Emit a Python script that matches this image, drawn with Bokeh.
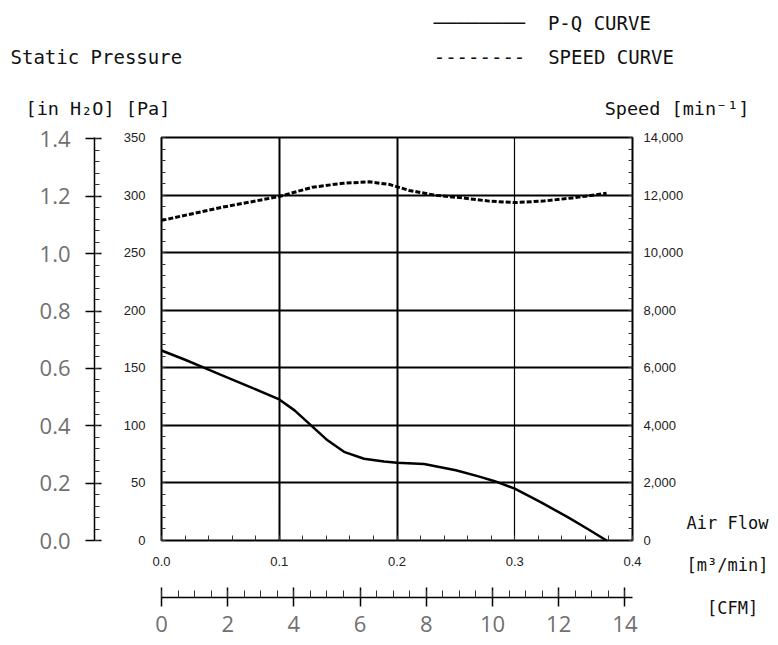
from bokeh.plotting import figure
from bokeh.models import (Range1d, LinearAxis, SingleIntervalTicker, FixedTicker,
                          PrintfTickFormatter, NumeralTickFormatter, Grid, Title)
from bokeh.embed import file_html
from bokeh.resources import INLINE

# ---------------- data ----------------
pq_flow = [0.0, 0.02, 0.034, 0.05, 0.076, 0.1, 0.113, 0.127, 0.141, 0.155, 0.172,
           0.189, 0.2, 0.223, 0.25, 0.27, 0.283, 0.3, 0.322, 0.345, 0.362, 0.378]
pq_pressure = [165, 157, 151, 144, 133, 122.5, 113, 100, 87, 77, 71,
               68.6, 67.5, 66.5, 61, 55.5, 51.5, 45, 33.3, 20.3, 10, 0]

speed_flow = [0.0, 0.052, 0.1, 0.128, 0.154, 0.1765, 0.1935, 0.2105, 0.233,
              0.256, 0.278, 0.301, 0.324, 0.349, 0.378]
speed_rpm = [11120, 11580, 11950, 12270, 12410, 12460, 12370, 12160, 11990,
             11900, 11790, 11740, 11790, 11900, 12060]

flow_range = [0.0, 0.4]            # m3/min
pressure_range = [0, 350]          # Pa
speed_range = [0, 14000]           # min-1
PA_PER_INH2O = 249.089
inh2o_range = [0.0, pressure_range[1] / PA_PER_INH2O]
cfm_range = [0.0, 14.23]           # CFM scale across the frame width

flow_step, pressure_step, speed_step = 0.1, 50, 2000
inh2o_step, cfm_step = 0.2, 2
grid_flow_thick = [0.1, 0.2]
grid_flow_thin = [0.3]

legend_labels = ["P-Q CURVE", "SPEED CURVE"]
title_pressure = "Static Pressure"
units_pressure = "[in H\u2082O] [Pa]"
title_speed = "Speed [min\u207b\u00b9]"
title_flow = ["Air Flow", "[m\u00b3/min]", "\u00a0\u00a0[CFM]"]

# ---------------- styles ----------------
MONO = "DejaVu Sans Mono"
SANS = "Liberation Sans"
ROUND = "Open Sans"
NB = "\u00a0"


def style_axis(ax, font, size, color, standoff, tin, tout, mtin, mtout,
               line_color="black", line_width=1.0, pad=None):
    ax.major_label_text_font = font
    ax.major_label_text_font_size = size
    ax.major_label_text_color = color
    ax.major_label_standoff = standoff
    ax.major_tick_in = tin
    ax.major_tick_out = tout
    ax.minor_tick_in = mtin
    ax.minor_tick_out = mtout
    ax.major_tick_line_color = "black" if (tin or tout) else None
    ax.major_tick_line_width = 1.5
    ax.minor_tick_line_color = "#333333"
    ax.minor_tick_line_width = 1
    ax.axis_line_color = line_color
    ax.axis_line_width = line_width
    if pad is not None:
        # invisible axis label that only reserves room before the next stacked axis
        ax.axis_label = "."
        ax.axis_label_text_font_size = "1px"
        ax.axis_label_text_alpha = 0
        ax.axis_label_standoff = pad


p = figure(width=778, height=645, min_border_left=161, min_border_right=146,
           min_border_top=137, min_border_bottom=105,
           x_range=Range1d(*flow_range), y_range=Range1d(*pressure_range),
           toolbar_location=None, output_backend="svg", title=None,
           x_axis_type=None, y_axis_type=None)
p.extra_y_ranges = {"speed": Range1d(*speed_range), "inh2o": Range1d(*inh2o_range)}
p.extra_x_ranges = {"cfm": Range1d(*cfm_range)}
p.outline_line_color = "black"
p.outline_line_width = 2
p.background_fill_color = "white"
p.border_fill_color = "white"

# left: Pa (inner) and inH2O (outer)
pa_axis = LinearAxis(ticker=SingleIntervalTicker(interval=pressure_step, num_minor_ticks=5))
style_axis(pa_axis, SANS, "13px", "#222222", 16, 0, 0, 4, 0, line_color=None, pad=22)
p.add_layout(pa_axis, "left")

inh2o_axis = LinearAxis(y_range_name="inh2o",
                        ticker=SingleIntervalTicker(interval=inh2o_step, num_minor_ticks=5),
                        formatter=PrintfTickFormatter(format="%.1f"))
style_axis(inh2o_axis, ROUND, "22px", "#707070", 15, 7, 9, 5, 0, line_width=1.5)
p.add_layout(inh2o_axis, "left")

# bottom: m3/min (inner) and CFM (outer)
flow_axis = LinearAxis(ticker=SingleIntervalTicker(interval=flow_step, num_minor_ticks=5),
                       formatter=PrintfTickFormatter(format="%.1f"))
style_axis(flow_axis, SANS, "13px", "#222222", 16, 0, 0, 5, 0, line_color=None, pad=25)
p.add_layout(flow_axis, "below")

cfm_axis = LinearAxis(x_range_name="cfm",
                      ticker=SingleIntervalTicker(interval=cfm_step, num_minor_ticks=4))
style_axis(cfm_axis, ROUND, "22px", "#707070", 9, 10, 9, 7, 0, line_width=1.5)
p.add_layout(cfm_axis, "below")

# right: speed
speed_axis = LinearAxis(y_range_name="speed",
                        ticker=SingleIntervalTicker(interval=speed_step, num_minor_ticks=5),
                        formatter=NumeralTickFormatter(format="0,0"))
style_axis(speed_axis, SANS, "13px", "#222222", 11, 0, 0, 4, 0, line_color=None)
p.add_layout(speed_axis, "right")

# right, outside the speed axis: the air-flow caption block as one multi-line label,
# centred on "Air Flow" 18 px above the frame bottom
flow_caption_pos = round(speed_range[1] * 18 / 403)
caption_axis = LinearAxis(y_range_name="speed", ticker=FixedTicker(ticks=[flow_caption_pos]),
                          major_label_overrides={flow_caption_pos: "\n".join([NB, NB] + title_flow)})
style_axis(caption_axis, MONO, "17px", "#111111", 0, 0, 0, 0, 0, line_color=None)
caption_axis.minor_tick_line_color = None
caption_axis.major_label_text_line_height = 2.14
p.add_layout(caption_axis, "right")

# grid
p.add_layout(Grid(dimension=1, ticker=pa_axis.ticker, grid_line_color="black",
                  grid_line_width=2))
p.add_layout(Grid(dimension=0, ticker=FixedTicker(ticks=grid_flow_thick),
                  grid_line_color="black", grid_line_width=2))
p.add_layout(Grid(dimension=0, ticker=FixedTicker(ticks=grid_flow_thin),
                  grid_line_color="black", grid_line_width=1.2))

# curves
pq_r = p.line(pq_flow, pq_pressure, line_color="black", line_width=2.5)
sp_r = p.line(speed_flow, speed_rpm, y_range_name="speed", line_color="black",
              line_width=3, line_dash="5 2")

# ---------------- header rows (titles above the frame, monospace) ----------------
def header(text, offset, size, standoff):
    p.add_layout(Title(text=text, align="left", offset=offset, standoff=standoff,
                       vertical_align="bottom", text_font=MONO, text_font_size=size,
                       text_font_style="normal", text_color="#111111"), "above")


row_c = units_pressure + NB * 39 + title_speed
row_b = title_pressure + NB * 22 + "-" * 8 + NB * 2 + legend_labels[1]
row_a = "\u2500" * 8 + NB * 2 + legend_labels[0]
header(row_c, -136, "18.5px", 37)   # closest to the frame
header(row_b, -151, "19px", 20)
header(row_a, 272, "19px", 0)

open("out.html", "w").write(file_html(p, INLINE))
